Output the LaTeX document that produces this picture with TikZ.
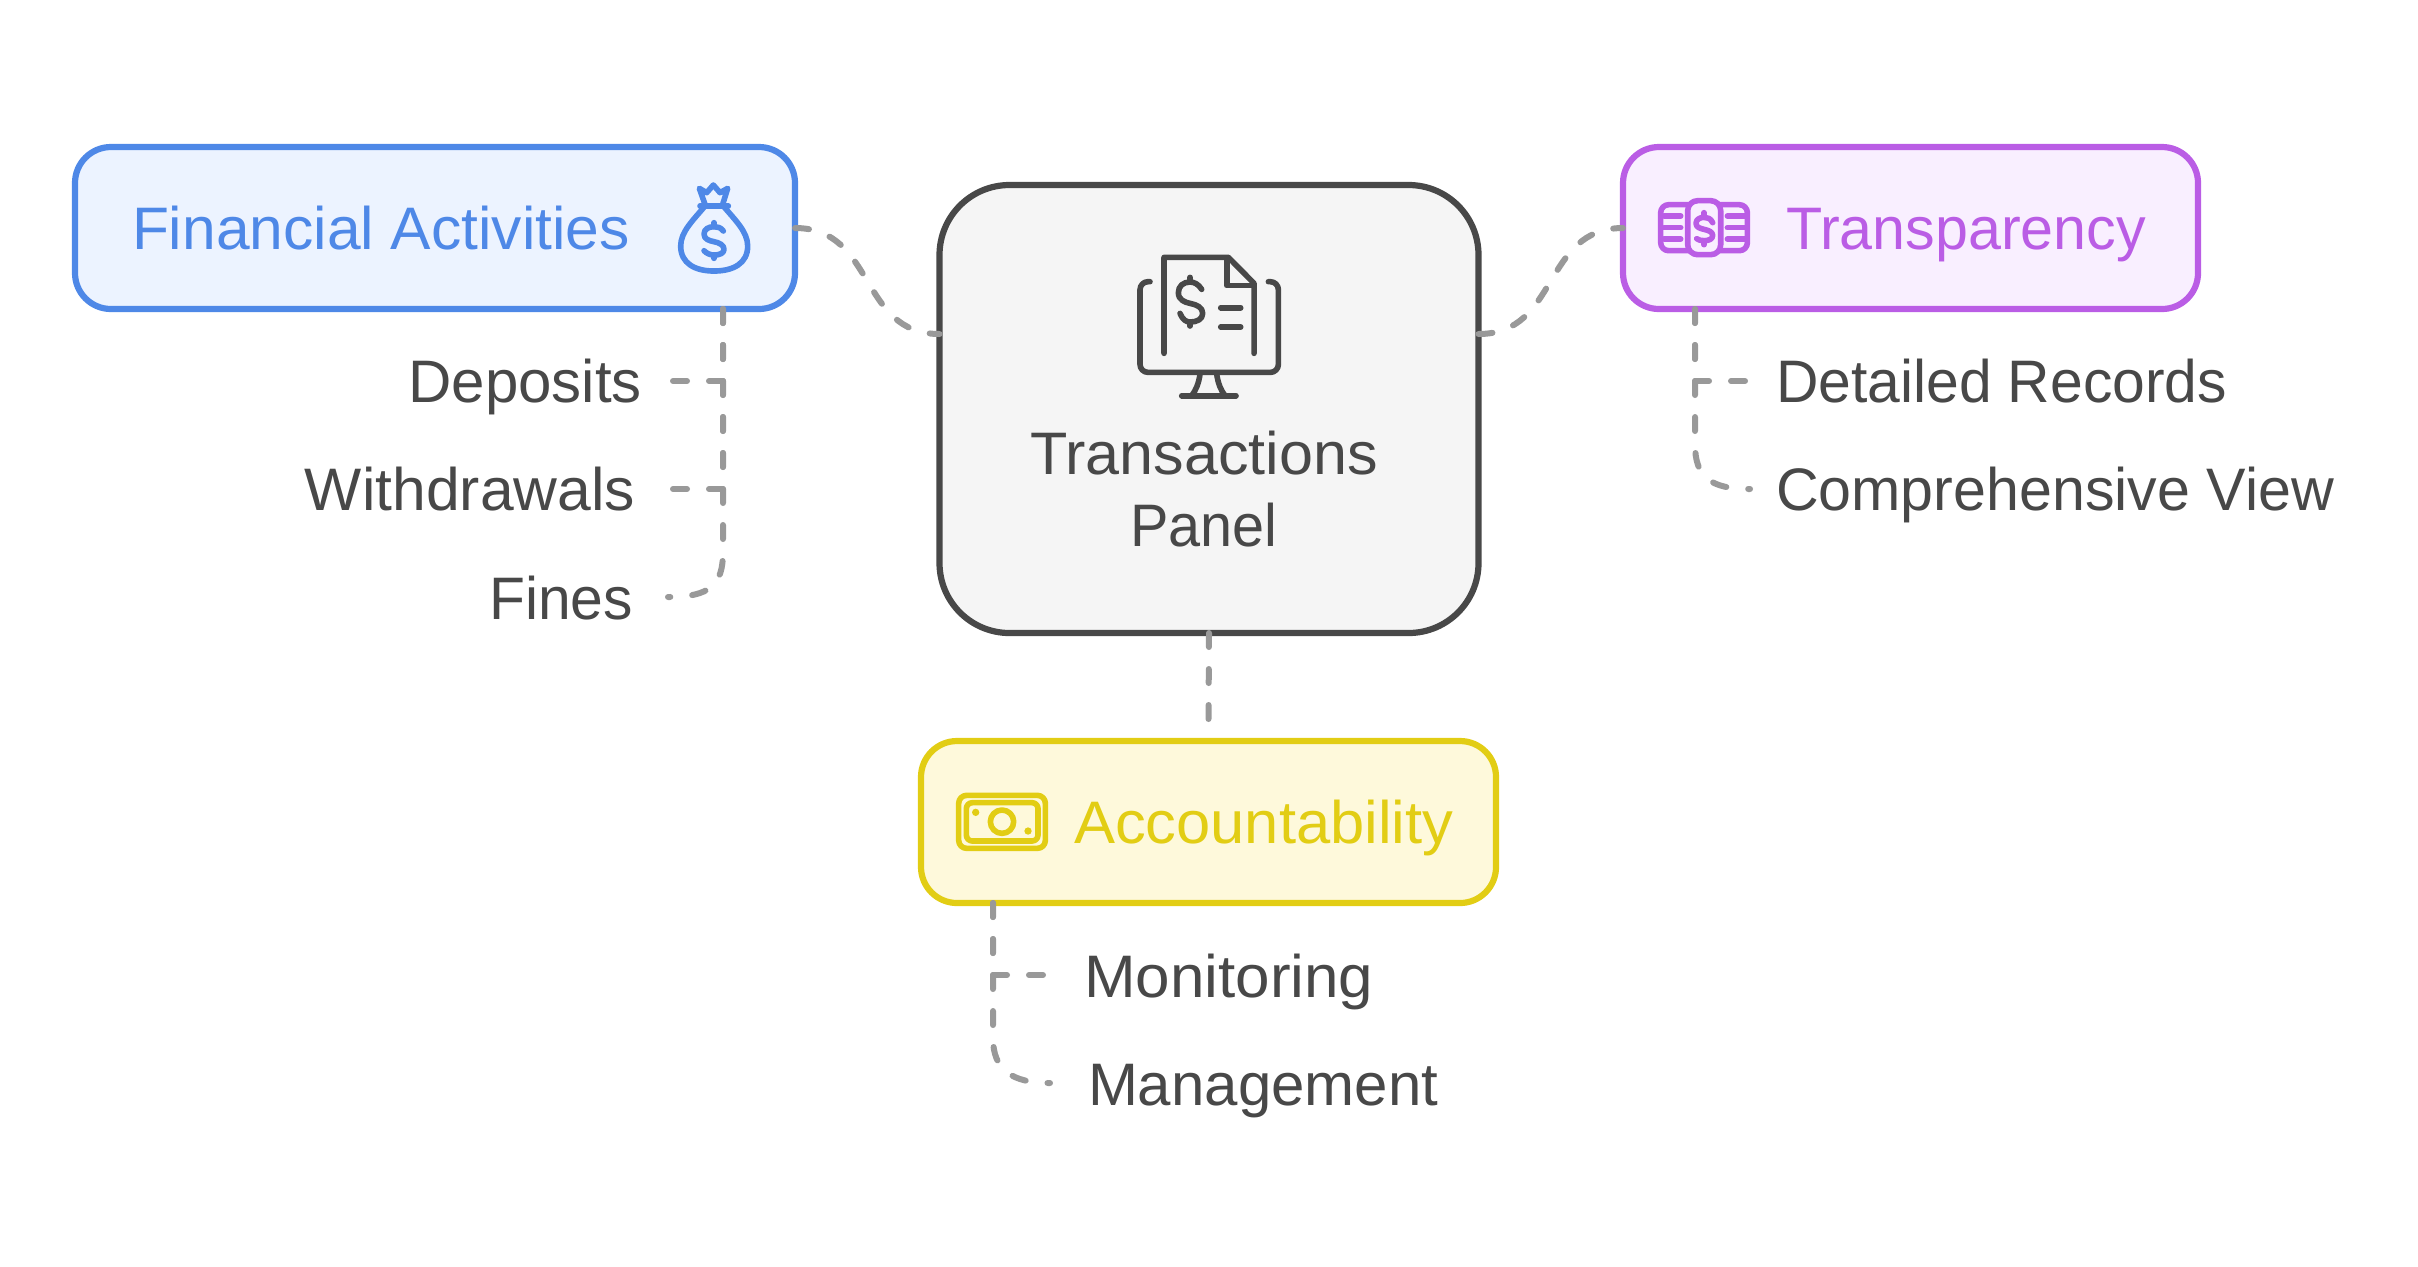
\documentclass[tikz,border=0pt]{standalone}
\usepackage{fontspec}
\setmainfont{Liberation Sans}
\definecolor{bluec}{HTML}{4E88E7}\definecolor{bluef}{HTML}{ECF3FF}
\definecolor{purc}{HTML}{BA5DE5}\definecolor{purf}{HTML}{F9EFFF}
\definecolor{yelc}{HTML}{E2CD14}\definecolor{yelf}{HTML}{FEF9DB}
\definecolor{grayc}{HTML}{484848}\definecolor{grayf}{HTML}{F5F5F5}
\definecolor{dashc}{HTML}{999999}
\newcommand{\fit}[2]{{\addfontfeatures{FakeStretch=#1}#2}}
\tikzset{
 box/.style={draw,line width=3.1pt,rounded corners=18pt,minimum width=#1,minimum height=81pt,outer sep=0pt,inner sep=0pt},
 hub/.style={draw=grayc,fill=grayf,line width=3.1pt,rounded corners=35pt,minimum width=269.5pt,minimum height=224pt,outer sep=0pt,inner sep=0pt},
 conn/.style={draw=dashc,line width=3pt,line cap=round,dash pattern=on 7pt off 11pt},
 lab/.style={font=\fontsize{30}{36}\selectfont,text=grayc,inner sep=0pt,outer sep=0pt},
 icon/.style={line width=2.8pt,line cap=round,line join=round},
}
\newcommand{\dollarmark}{%
 \draw (305,208) .. controls (295,192) and (282,186) .. (270,186) .. controls (250,186) and (235,198) .. (235,218) .. controls (235,240) and (255,247) .. (270,250) .. controls (290,254) and (308,262) .. (308,280) .. controls (308,298) and (290,306) .. (270,306) .. controls (258,306) and (247,298) .. (240,280);
 \draw (270,172) -- (270,186) (270,306) -- (270,318);}
\begin{document}
\begin{tikzpicture}[x=0.5pt,y=-0.5pt]
\useasboundingbox (0,0) rectangle (2418,1266);
% boxes
\node[box=360pt,draw=bluec,fill=bluef] (fin) at (435,228) {};
\node[box=287.5pt,draw=purc,fill=purf] (tra) at (1910.5,228) {};
\node[box=287.5pt,draw=yelc,fill=yelf] (acc) at (1208.5,822) {};
\node[hub] (hub) at (1209,409) {};
% labels
\node[lab,anchor=base west,text=bluec] (finl) at (132,249) {\fit{1.009}{Financial Activities}};
\node[lab,anchor=base west,text=purc] (tral) at (1786,249) {\fit{0.987}{Transparency}};
\node[lab,anchor=base west,text=yelc] (accl) at (1074,843) {\fit{1.025}{Accountability}};
\node[lab,align=center,anchor=center] (hubl) at (1204,489) {\fit{1.018}{Transactions}\\\fit{0.96}{Panel}};
\node[lab,anchor=base east] (dep) at (642,402) {Deposits};
\node[lab,anchor=base east] (wit) at (635,510) {\fit{1.01}{Withdrawals}};
\node[lab,anchor=base east] (fines) at (633,619) {\fit{0.98}{Fines}};
\node[lab,anchor=base west] (det) at (1776,402) {\fit{0.98}{Detailed Records}};
\node[lab,anchor=base west] (com) at (1776,510) {\fit{0.986}{Comprehensive View}};
\node[lab,anchor=base west] (mon) at (1084,997) {\fit{1.033}{Monitoring}};
\node[lab,anchor=base west] (man) at (1088,1105) {Management};
% connector ends
\coordinate (finx) at (723,0);\coordinate (trax) at (1695,0);\coordinate (accx) at (993,0);
\coordinate (depe) at (670,381);\coordinate (wite) at (670,489);\coordinate (fine) at (668,597);
\coordinate (dete) at (1748,381);\coordinate (come) at (1750,489);
\coordinate (mone) at (1047,975);\coordinate (mane) at (1050,1083);
% connectors
\draw[conn] (fin.east) .. controls +(81,0) and +(-81,0) .. ([yshift=37.5pt]hub.west);
\draw[conn] ([yshift=37.5pt]hub.east) .. controls +(81,0) and +(-81,0) .. (tra.west);
\draw[conn] (hub.south) -- ([yshift=10.5pt]acc.north);
\draw[conn] (finx |- fin.south) |- (depe);
\draw[conn] (finx |- fin.south) |- (wite);
\draw[conn] (finx |- fin.south) -- (723,552) .. controls (723,585) and (710,597) .. (fine);
\draw[conn] (trax |- tra.south) |- (dete);
\draw[conn] (trax |- tra.south) -- (1695,444) .. controls (1695,477) and (1710,489) .. (come);
\draw[conn] (accx |- acc.south) |- (mone);
\draw[conn] (accx |- acc.south) -- (993,1038) .. controls (993,1070) and (1012,1083) .. (mane);
% monitor icon
\begin{scope}[shift={(1100,220)},x=0.1667pt,y=-0.1667pt,icon,draw=grayc]
 \draw[rounded corners=4pt] (150,185) -- (120,185) -- (120,457) -- (535,457) -- (535,185) -- (505,185);
 \draw (192,400) -- (192,112) -- (385,112) -- (462,190) -- (462,400);
 \draw (380,118) -- (380,197) -- (462,197);
 \draw (362,263) -- (422,263) (362,321) -- (422,321);
 \draw (300,462) .. controls (296,490) and (288,510) .. (275,527);
 \draw (350,462) .. controls (354,490) and (362,510) .. (375,527);
 \draw (245,527) -- (408,527);
 \dollarmark
\end{scope}
% money bag icon
\begin{scope}[shift={(660,170)},x=0.1667pt,y=-0.1667pt,icon,draw=bluec]
 \draw (135,108) .. controls (100,150) and (62,185) .. (62,228) .. controls (62,280) and (105,303) .. (162,303) .. controls (220,303) and (263,280) .. (263,228) .. controls (263,185) and (225,150) .. (190,108);
 \draw (120,108) -- (205,108);
 \draw (135,103) -- (118,55) -- (140,68) -- (160,45) -- (180,68) -- (203,55) -- (188,103);
 \draw (190,183) .. controls (182,172) and (172,170) .. (162,170) .. controls (145,170) and (132,178) .. (132,192) .. controls (132,208) and (148,212) .. (162,215) .. controls (178,218) and (192,225) .. (192,238) .. controls (192,250) and (178,255) .. (162,255) .. controls (150,255) and (140,250) .. (132,242);
 \draw (162,158) -- (162,170) (162,255) -- (162,265);
\end{scope}
% bills icon
\begin{scope}[shift={(1640,180)},x=0.1667pt,y=-0.1667pt,icon,draw=purc]
 \draw[rounded corners=4pt] (143,74) -- (62,74) -- (62,212) -- (143,212);
 \draw[rounded corners=4pt] (242,74) -- (322,74) -- (322,212) -- (242,212);
 \draw[rounded corners=5pt] (143,62) rectangle (242,224);
 \draw (72,108) -- (122,108) (72,143) -- (122,143) (72,177) -- (122,177);
 \draw (262,108) -- (316,108) (262,143) -- (316,143) (262,177) -- (316,177);
 \draw (218,128) .. controls (212,115) and (202,112) .. (192,112) .. controls (180,112) and (168,118) .. (168,130) .. controls (168,142) and (180,145) .. (192,148) .. controls (206,151) and (218,156) .. (218,166) .. controls (218,178) and (205,182) .. (192,182) .. controls (182,182) and (176,180) .. (170,176);
 \draw (192,98) -- (192,112) (192,182) -- (192,194);
\end{scope}
% banknote icon
\begin{scope}[shift={(940,780)},x=0.1667pt,y=-0.1667pt,icon,draw=yelc]
 \draw[rounded corners=4pt] (56,46) rectangle (316,205);
 \draw[rounded corners=3pt] (79,68) rectangle (294,183);
 \draw (186,125) circle[radius=35];
 \fill[yelc] (107,97) circle[radius=11] (264,153) circle[radius=11];
\end{scope}
\end{tikzpicture}
\end{document}
